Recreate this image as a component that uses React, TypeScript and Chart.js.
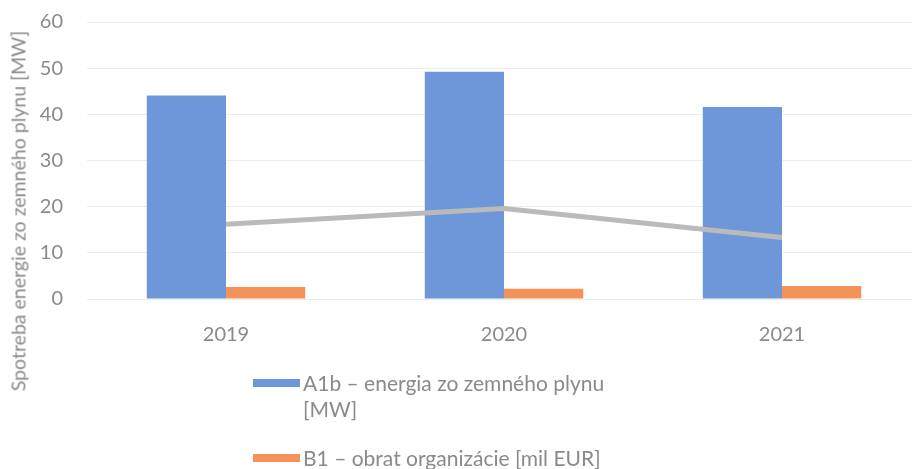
import React, { useEffect, useRef } from "react";
import { Chart, registerables } from "chart.js";

Chart.register(...registerables);

const years = ["2019", "2020", "2021"];
const gasEnergy = [44.1, 49.2, 41.6];
const turnover = [2.6, 2.2, 2.8];
const ratioLine = [16.2, 19.6, 13.3];
const yTicks = [0, 10, 20, 30, 40, 50, 60];

const yTitle = "Spotreba energie zo zemného plynu [MW]";
const legendA = ["A1b – energia zo zemného plynu", "[MW]"];
const legendB = "B1 – obrat organizácie [mil EUR]";

const FONT = "Lato, 'Open Sans', sans-serif";
const TEXT = "#8a8a8a";
const BLUE = "#6d97d8";
const ORANGE = "#f5925a";
const GRAY = "#bababa";

export default function App() {
  const ref = useRef<HTMLCanvasElement | null>(null);
  useEffect(() => {
    if (!ref.current) return;
    const chart = new Chart(ref.current, {
      type: "bar",
      data: {
        labels: years,
        datasets: [
          {
            type: "line" as any,
            label: "A1b / B1",
            data: ratioLine,
            borderColor: GRAY,
            borderWidth: 5,
            pointRadius: 0,
            order: 0,
            fill: false,
          } as any,
          {
            label: legendA.join(" "),
            data: gasEnergy,
            backgroundColor: BLUE,
            categoryPercentage: 0.57,
            barPercentage: 1,
            order: 1,
          },
          {
            label: legendB,
            data: turnover,
            backgroundColor: ORANGE,
            categoryPercentage: 0.57,
            barPercentage: 1,
            order: 1,
          },
        ],
      },
      options: {
        responsive: false,
        animation: false,
        layout: { padding: { top: 22, right: 9, bottom: 98, left: 0 } },
        plugins: { legend: { display: false }, tooltip: { enabled: false } },
        scales: {
          x: {
            offset: true,
            grid: { display: false, drawTicks: false },
            border: { display: false },
            ticks: { color: TEXT, font: { family: FONT, size: 20 }, padding: 24 },
          },
          y: {
            min: 0,
            max: 60,
            afterFit: (s: any) => {
              s.width = 87;
              s.paddingTop = 0;
              s.paddingBottom = 0;
            },
            afterBuildTicks: (s: any) => {
              s.ticks = yTicks.map((v) => ({ value: v }));
            },
            grid: { color: "#ececec", drawTicks: false },
            border: { display: false },
            ticks: { color: TEXT, font: { family: FONT, size: 20 }, padding: 24 },
          },
        },
      },
    });
    return () => chart.destroy();
  }, []);

  const swatch = (c: string): React.CSSProperties => ({
    position: "absolute",
    left: 253,
    width: 47,
    height: 8,
    background: c,
  });
  const txt: React.CSSProperties = {
    position: "absolute",
    left: 303,
    fontFamily: FONT,
    fontSize: 21,
    color: TEXT,
    whiteSpace: "nowrap",
    lineHeight: "24px",
  };

  return (
    <div
      style={{
        position: "fixed",
        left: 0,
        top: 0,
        width: 912,
        height: 469,
        overflow: "hidden",
        background: "#fff",
      }}
    >
      <canvas ref={ref} width={930} height={469} style={{ position: "absolute", left: 0, top: 0 }} />
      <div
        style={{
          position: "absolute",
          left: 18,
          top: 211,
          transform: "translate(-50%, -50%) rotate(-90deg)",
          fontFamily: FONT,
          fontSize: 19.5,
          color: TEXT,
          whiteSpace: "nowrap",
        }}
      >
        {yTitle}
      </div>
      <div style={{ ...swatch(BLUE), top: 379 }} />
      <div style={{ ...txt, top: 371 }}>{legendA[0]}</div>
      <div style={{ ...txt, top: 397 }}>{legendA[1]}</div>
      <div style={{ ...swatch(ORANGE), top: 454 }} />
      <div style={{ ...txt, top: 446 }}>{legendB}</div>
    </div>
  );
}
